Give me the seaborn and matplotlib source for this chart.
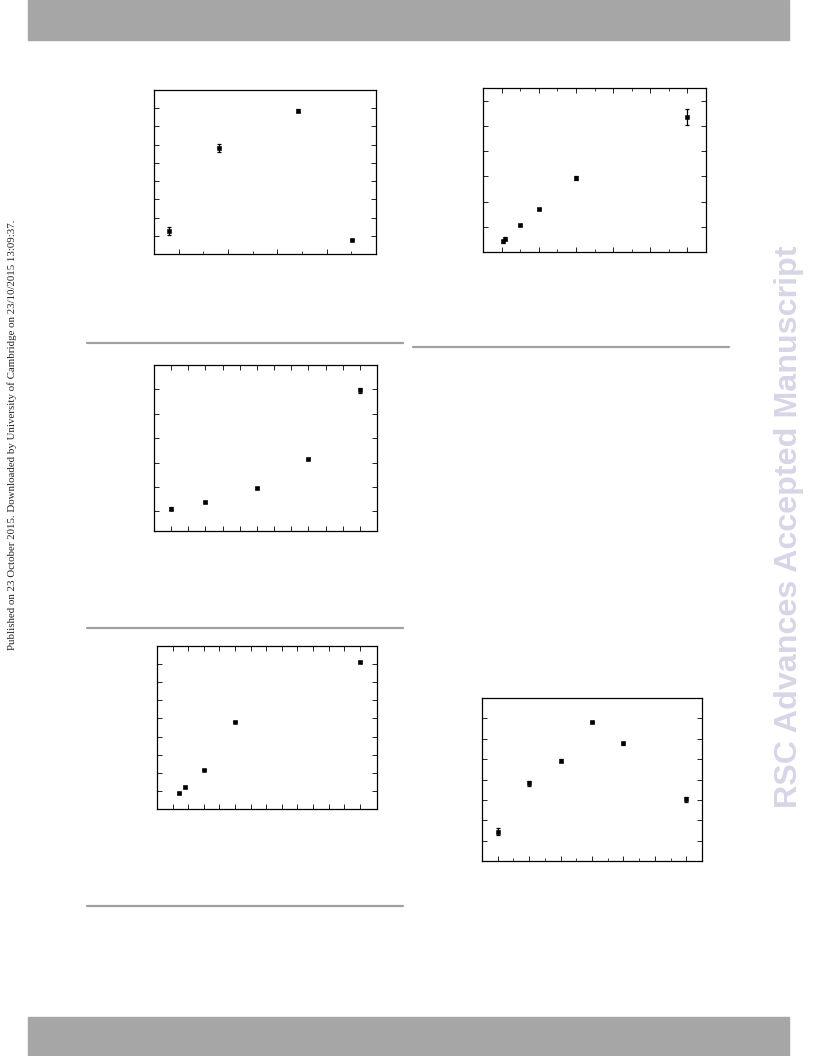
import numpy as np
import pandas as pd
import seaborn as sns
import matplotlib
matplotlib.use("Agg")
import matplotlib.pyplot as plt
from matplotlib.patches import Rectangle
from matplotlib.lines import Line2D

# panel a (top left)
a_x = [0.81, 1.81, 3.41, 4.52]
a_y = [1.26, 5.82, 7.86, 0.79]
a_err = [0.22, 0.2, 0.07, 0.05]

# panel b (top right)
b_x = [0.05, 0.1, 0.5, 1.0, 2.0, 5.0]
b_y = [0.42, 0.53, 1.07, 1.69, 2.94, 5.36]
b_err = [0.05, 0.05, 0.04, 0.04, 0.09, 0.32]

# panel c (middle left)
c_x = [0, 2, 5, 8, 11]
c_y = [1.12, 1.38, 1.95, 3.16, 5.96]
c_err = [0.05, 0.05, 0.05, 0.05, 0.11]

# panel d (lower left)
d_x = [0.2, 0.4, 1.0, 2.0, 6.0]
d_y = [0.87, 1.22, 2.18, 4.83, 8.13]
d_err = [0.05, 0.05, 0.05, 0.05, 0.05]

# panel e (lower right)
e_x = [0, 1, 2, 3, 4, 6]
e_y = [1.44, 3.82, 4.93, 6.83, 5.77, 3.04]
e_err = [0.18, 0.12, 0.06, 0.05, 0.07, 0.12]

W, H = 816, 1056
sns.set_theme(style="white")
plt.rcParams["font.family"] = ["Liberation Sans", "DejaVu Sans"]
fig = plt.figure(figsize=(W / 100, H / 100), dpi=100)


def px_axes(l, t, r, b):
    return fig.add_axes([l / W, 1 - b / H, (r - l) / W, (b - t) / H])


def panel(box, xs, ys, errs, xlim, ylim, xmaj, xmin, ymaj, top_ticks):
    ax = px_axes(*box)
    df = pd.DataFrame({"x": xs, "y": ys})
    ax.errorbar(xs, ys, yerr=errs, fmt="none", ecolor="black",
                elinewidth=0.9, capsize=1.6, capthick=0.9)
    sns.scatterplot(data=df, x="x", y="y", ax=ax, marker="s", s=11,
                    color="black", edgecolor="black", linewidth=0.4,
                    legend=False, zorder=3)
    ax.set_xlim(*xlim)
    ax.set_ylim(*ylim)
    ax.set_xticks(xmaj)
    ax.set_xticks(xmin, minor=True)
    ax.set_yticks(ymaj)
    ax.set_xlabel("")
    ax.set_ylabel("")
    ax.tick_params(axis="both", which="both", direction="in",
                   labelbottom=False, labelleft=False, color="#222222",
                   right=True, top=top_ticks, bottom=True, left=True)
    ax.tick_params(which="major", length=3.5, width=0.7)
    ax.tick_params(which="minor", length=2, width=0.6)
    for s in ax.spines.values():
        s.set_color("black")
        s.set_linewidth(0.9)
    return ax


panel((154, 90, 376, 254), a_x, a_y, a_err, (0.5, 5), (0, 9),
      [1, 2, 3, 4, 5], [1.5, 2.5, 3.5, 4.5], range(1, 9), False)
panel((483, 88, 706, 252), b_x, b_y, b_err, (-0.5, 5.5), (0, 6.5),
      range(0, 6), np.arange(0.5, 5.5, 1), range(1, 7), True)
panel((154, 365, 377, 531), c_x, c_y, c_err, (-1, 12), (0.2, 7),
      range(0, 12), [], range(1, 7), True)
panel((157, 646, 377, 809), d_x, d_y, d_err, (-0.5, 6.55), (0, 9),
      np.arange(0, 6.5, 0.5), [], range(1, 9), True)
panel((482, 698, 702, 861), e_x, e_y, e_err, (-0.5, 6.5), (0, 8),
      range(0, 7), np.arange(0.5, 6.5, 1), range(1, 8), False)

# page header / footer bars
bar = "#a6a6a6"
fig.patches.append(Rectangle((28 / W, 1 - 40 / H), (789 - 28) / W, 40 / H,
                             transform=fig.transFigure, color=bar, zorder=0))
fig.patches.append(Rectangle((28 / W, 0), (789 - 28) / W, 39 / H,
                             transform=fig.transFigure, color=bar, zorder=0))

# separator rules
for x0, x1, y in [(87, 403, 343), (413, 729, 347), (87, 403, 628), (87, 403, 906)]:
    fig.lines.append(Line2D([x0 / W, x1 / W], [1 - y / H, 1 - y / H],
                            transform=fig.transFigure, color="#a0a0a0",
                            linewidth=1.6))

fig.text(12 / W, 1 - 435 / H,
         "Published on 23 October 2015. Downloaded by University of Cambridge on 23/10/2015 13:09:37.",
         rotation=90, ha="center", va="center", fontsize=7.8,
         family=["Liberation Serif", "DejaVu Serif"], color="#222222")
fig.text(789 / W, 1 - 527 / H, "RSC Advances Accepted Manuscript",
         rotation=90, ha="center", va="center", fontsize=23.2,
         fontweight="bold", color="#d6d6e6")

fig.savefig("out.png", dpi=100, facecolor="white")
